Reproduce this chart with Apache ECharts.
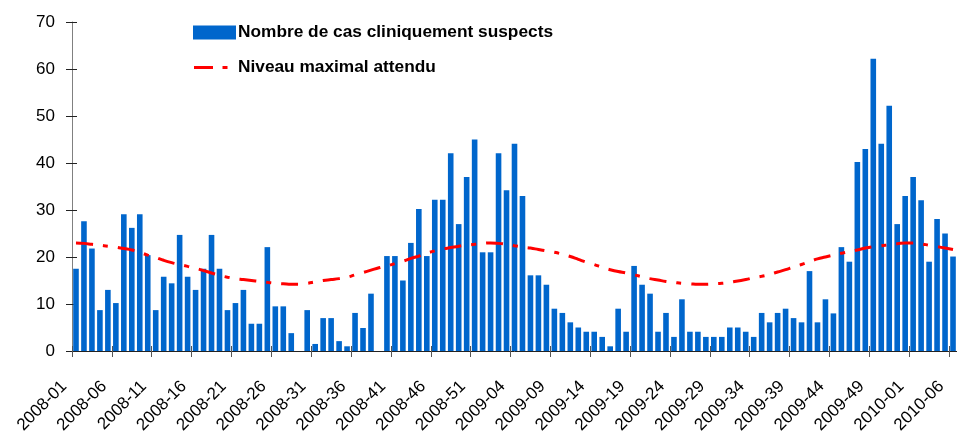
<!DOCTYPE html>
<html><head><meta charset="utf-8">
<script src="https://cdn.jsdelivr.net/npm/echarts@6/dist/echarts.min.js"></script>
<style>html,body{margin:0;padding:0;background:#fff}#c{width:957px;height:433px}</style>
</head><body><div id="c"></div>
<script>
// ISO weeks per year shown on the axis
const weekCounts = [[2008, 52], [2009, 53], [2010, 6]];
const weeks = [];
weekCounts.forEach(([y, n]) => { for (let w = 1; w <= n; w++) weeks.push(y + '-' + String(w).padStart(2, '0')); });

// Nombre de cas cliniquement suspects
const cases = [
  17.5, 27.6, 21.8, 8.7, 13.0, 10.2, 29.1, 26.2, 29.1, 20.4,
  8.7, 15.8, 14.4, 24.7, 15.8, 13.0, 17.5, 24.7, 17.5, 8.7,
  10.2, 13.0, 5.8, 5.8, 22.1, 9.5, 9.5, 3.8, 0, 8.7,
  1.5, 7.0, 7.0, 2.1, 1.0, 8.1, 4.9, 12.2, 0, 20.2,
  20.2, 15.0, 23.0, 30.2, 20.2, 32.2, 32.2, 42.1, 27.0, 37.0,
  45.0, 21.0, 21.0, 42.1, 34.2, 44.1, 33.0, 16.1, 16.1, 14.1,
  9.0, 8.1, 6.1, 5.0, 4.1, 4.1, 3.0, 1.0, 9.0, 4.1,
  18.1, 14.1, 12.2, 4.1, 8.1, 3.0, 11.0, 4.1, 4.1, 3.0,
  3.0, 3.0, 5.0, 5.0, 4.1, 3.0, 8.1, 6.1, 8.1, 9.0,
  7.0, 6.1, 17.0, 6.1, 11.0, 8.0, 22.1, 19.0, 40.2, 43.0,
  62.2, 44.1, 52.2, 27.0, 33.0, 37.0, 32.1, 19.0, 28.1, 25.0,
  20.1
];

// Niveau maximal attendu
const expected = [
  23.0, 22.9, 22.7, 22.5, 22.3, 22.1, 21.8, 21.5, 21.0, 20.4,
  19.9, 19.3, 18.8, 18.4, 18.0, 17.6, 17.1, 16.6, 16.1, 15.7,
  15.4, 15.2, 15.0, 14.8, 14.6, 14.4, 14.3, 14.2, 14.2, 14.4,
  14.7, 15.0, 15.2, 15.4, 15.7, 16.2, 16.7, 17.2, 17.7, 18.1,
  18.6, 19.1, 19.7, 20.2, 20.8, 21.3, 21.7, 22.0, 22.3, 22.5,
  22.7, 22.9, 23.0, 22.9, 22.7, 22.4, 22.1, 21.9, 21.6, 21.3,
  21.0, 20.6, 20.1, 19.5, 18.9, 18.4, 17.8, 17.3, 16.9, 16.6,
  16.2, 15.8, 15.4, 15.1, 14.8, 14.6, 14.4, 14.3, 14.2, 14.2,
  14.3, 14.4, 14.6, 14.9, 15.2, 15.6, 15.9, 16.3, 16.8, 17.3,
  17.9, 18.4, 19.0, 19.6, 20.0, 20.4, 20.8, 21.2, 21.5, 21.9,
  22.2, 22.4, 22.6, 22.8, 23.0, 23.0, 22.8, 22.5, 22.2, 21.9,
  21.6
];

const yMin = 0, yMax = 70, yStep = 10;
const labelEvery = 5;
const seriesNames = ['Nombre de cas cliniquement suspects', 'Niveau maximal attendu'];

// boundary axis: one slot more than the weeks, so ticks/labels sit on bar boundaries
const boundaryLabels = weeks.concat(['']);
const FONT = '"Liberation Sans", Arial, sans-serif';
// legend icon for the dashed line: long dash + short dash inside a 43x14 box
const dashIcon = 'path://M0,0h0.01v0.01h-0.01z M43,14h-0.01v-0.01h0.01z M1,5.5h19v3h-19z M29.5,5.5h5v3h-5z';

const chart = echarts.init(document.getElementById('c'), null, { renderer: 'canvas' });
chart.setOption({
  animation: false,
  backgroundColor: '#fff',
  textStyle: { fontFamily: FONT },
  grid: { left: 72, right: 0, top: 22, bottom: 82, containLabel: false, outerBoundsMode: 'none' },
  legend: {
    orient: 'vertical', left: 193, top: 24, padding: 0, itemWidth: 43, itemHeight: 14, itemGap: 18,
    textStyle: { fontFamily: FONT, fontSize: 17.3, fontWeight: 'bold', color: '#000', padding: [0, 0, 0, -3] },
    data: [
      { name: seriesNames[0], icon: 'rect' },
      { name: seriesNames[1], icon: dashIcon, itemStyle: { color: '#ff0000', borderWidth: 0 } }
    ]
  },
  xAxis: [
    {
      type: 'category', data: weeks, boundaryGap: true,
      axisLine: { lineStyle: { color: '#222', width: 1 } },
      axisTick: { show: false }, axisLabel: { show: false }, splitLine: { show: false }
    },
    {
      type: 'category', data: boundaryLabels, boundaryGap: false, position: 'bottom',
      axisLine: { show: false },
      axisTick: { show: true, length: 6, interval: (i) => i % labelEvery === 0, lineStyle: { color: '#555' } },
      axisLabel: {
        interval: (i) => i % labelEvery === 0 && i < weeks.length,
        rotate: 45, fontSize: 17, color: '#000', fontFamily: FONT, margin: 25,
        padding: [0, 11, 0, 0]
      },
      splitLine: { show: false }
    },
    {
      type: 'category', data: boundaryLabels, boundaryGap: false, position: 'bottom',
      axisLine: { show: false },
      axisTick: { show: true, inside: true, length: 5, interval: (i) => i % labelEvery === 0, lineStyle: { color: '#555' } },
      axisLabel: { show: false }, splitLine: { show: false }
    }
  ],
  yAxis: [
    {
      type: 'value', min: yMin, max: yMax, interval: yStep, position: 'left',
      axisLine: { show: true, lineStyle: { color: '#808080' } },
      axisTick: { show: true, length: 6, lineStyle: { color: '#222' } },
      axisLabel: { fontSize: 17, color: '#000', fontFamily: FONT, margin: 17 },
      splitLine: { show: false }
    },
    {
      type: 'value', min: yMin, max: yMax, interval: yStep, position: 'left',
      axisLine: { show: false },
      axisTick: { show: true, inside: true, length: 5, lineStyle: { color: '#222' } },
      axisLabel: { show: false }, splitLine: { show: false }
    }
  ],
  series: [
    {
      name: seriesNames[0], type: 'bar', xAxisIndex: 0, yAxisIndex: 0,
      data: cases, barWidth: 5.6,
      itemStyle: { color: '#0066cc' }
    },
    {
      name: seriesNames[1], type: 'line', xAxisIndex: 0, yAxisIndex: 0,
      data: expected, symbol: 'none', smooth: true, z: 5,
      lineStyle: { color: '#ff0000', width: 3, type: [17, 10, 5, 10] },
      itemStyle: { color: '#ff0000' }
    }
  ]
});
</script>
</body></html>
